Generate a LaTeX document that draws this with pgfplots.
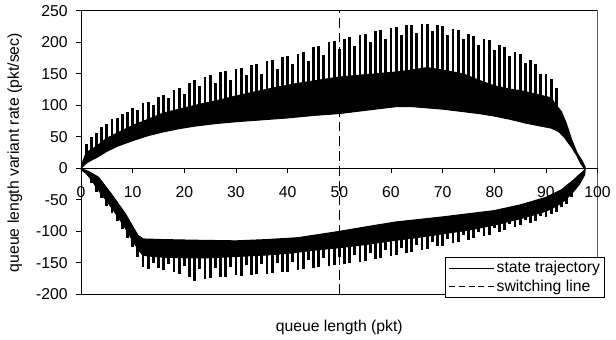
\documentclass[border=0pt]{standalone}
\usepackage{fontspec}
\setmainfont{Liberation Sans}
\usepackage{pgfplots}
\usepackage{pgfplotstable}
\pgfplotsset{compat=1.18}

% upper branch spikes: x, base, top
\pgfplotstableread{
x b t
1 15 38
2 20 50
3 25 56
4 32 66
5 38 70
6 42 78
7 46 80
8 50 87
9 54 90
10 58 96
11 61 92
12 65 103
13 68 106
14 71 100
15 75 113
16 78 116
17 80 112
18 82 124
19 84 128
20 86 118
21 88 136
22 90 140
23 92 130
24 94 145
25 96 148
26 97 136
27 99 153
28 101 155
29 103 140
30 105 158
31 107 160
32 108 148
33 110 164
34 112 166
35 114 150
36 115 170
37 117 172
38 119 158
39 121 176
40 122 178
41 124 165
42 125 182
43 126 185
44 128 170
45 129 192
46 130 195
47 131 180
48 133 200
49 134 202
50 135 190
51 136 206
52 136 208
53 137 195
54 138 212
55 139 214
56 139 200
57 140 218
58 141 220
59 142 205
60 142 223
61 143 225
62 144 212
63 145 227
64 146 228
65 147 215
66 148 229
67 150 229
68 148 218
69 147 227
70 146 226
71 144 212
72 143 222
73 141 219
74 140 205
75 137 213
76 134 210
77 130 196
78 127 206
79 124 203
80 121 188
81 119 196
82 118 193
83 116 178
84 115 185
85 113 181
86 112 168
87 110 172
88 108 165
89 106 150
90 104 150
91 102 142
92 95 128
}\upspikes

% lower branch spikes: x, bottom, top
\pgfplotstableread{
x b t
2 -24 -8
3 -37 -20
4 -47 -30
5 -60 -42
6 -71 -53
7 -84 -65
8 -97 -78
9 -110 -91
10 -125 -105
11 -140 -118
12 -156 -128
13 -160 -129
14 -150 -130
15 -158 -130
16 -162 -131
17 -152 -132
18 -165 -132
19 -168 -132
20 -155 -132
21 -172 -132
22 -178 -132
23 -160 -132
24 -176 -132
25 -174 -132
26 -158 -132
27 -173 -131
28 -172 -131
29 -156 -130
30 -170 -130
31 -171 -130
32 -154 -129
33 -169 -129
34 -168 -128
35 -152 -128
36 -167 -127
37 -166 -127
38 -150 -126
39 -165 -126
40 -164 -125
41 -148 -124
42 -161 -123
43 -160 -122
44 -145 -121
45 -158 -120
46 -157 -119
47 -142 -118
48 -155 -118
49 -154 -117
50 -140 -116
51 -152 -115
52 -151 -114
53 -138 -113
54 -148 -112
55 -147 -111
56 -134 -110
57 -144 -109
58 -142 -108
59 -130 -106
60 -139 -105
61 -138 -104
62 -126 -103
63 -135 -102
64 -133 -101
65 -122 -100
66 -129 -99
67 -128 -98
68 -117 -96
69 -124 -95
70 -123 -94
71 -112 -93
72 -119 -92
73 -117 -90
74 -106 -89
75 -113 -88
76 -111 -86
77 -101 -85
78 -107 -83
79 -105 -82
80 -95 -80
81 -101 -78
82 -98 -76
83 -89 -74
84 -93 -72
85 -90 -70
86 -82 -68
87 -86 -65
88 -83 -63
89 -76 -60
90 -77 -58
91 -72 -54
92 -69 -50
93 -62 -45
94 -56 -38
95 -46 -30
}\lowspikes

\begin{document}
\fontsize{16}{19}\selectfont
\begin{tikzpicture}
\begin{axis}[
  name=ax,
  scale only axis,
  width=523bp, height=287bp,
  xmin=0, xmax=100, ymin=-200, ymax=250,
  axis x line*=middle, axis y line*=left,
  hide obscured x ticks=false, hide obscured y ticks=false,
  xtick={0,10,...,100}, ytick={-200,-150,...,250},
  tick align=outside, major tick length=5bp,
  tick style={black, line width=0.9bp},
  axis line style={black, line width=0.9bp},
  /pgf/number format/assume math mode=true,
  xticklabel style={yshift=-8bp},
  yticklabel style={xshift=-3bp},
  xlabel={queue length (pkt)},
  ylabel={queue length variant rate (pkt/sec)},
  every axis x label/.style={at={(axis description cs:0.5,-0.115)}, anchor=center},
  every axis y label/.style={at={(axis description cs:-0.128,0.5)}, rotate=90, anchor=center},
  legend image code/.code={\draw[#1] (0bp,0bp) -- (46bp,0bp);},
  legend style={at={(1.015,0.132)}, anchor=north east, draw=black, fill=white,
    line width=0.9bp, row sep=1bp, inner xsep=3bp, inner ysep=2bp},
  legend cell align=left,
]
% upper band of the trajectory
\addplot[fill=black, draw=black, line width=1bp, forget plot] coordinates {
 (0,0) (0.5,4) (1,8) (2,13) (3,17) (5,27) (7,35) (10,44) (13,52) (16,58) (19,63)
 (22,67) (26,71) (30,74) (35,77) (40,80) (45,84) (50,87) (55,92) (61,98) (64,98)
 (67,96) (70,94) (74,90) (77,87) (80,83) (83,78) (86,72) (89,67) (91,64) (92.5,58)
 (93.5,50) (95,33) (96,20) (96.7,8) (97.4,0)
 (97.6,2) (97,12) (96,25) (95,45) (94,70) (93,90) (92,100) (91,112) (88,118)
 (86,122) (83,126) (80,131) (77,140) (74,150) (70,156) (67,160) (64,156) (61,153)
 (57,150) (54,148) (50,145) (46,140) (42,135) (38,129) (34,122) (30,115) (26,107)
 (22,100) (19,94) (16,88) (13,78) (10,68) (8,60) (6,52) (5,48) (3,35) (2,30) (1,25) (0.4,12)
} -- cycle;
% lower band of the trajectory
\addplot[fill=black, draw=black, line width=1bp, forget plot] coordinates {
 (0,0) (1.5,-5) (3.4,-14) (6,-42) (8.6,-72) (10,-92) (11,-106) (12,-112) (16,-113)
 (22,-114) (30,-115) (36,-113) (42,-110) (46,-105) (50,-100) (55,-93) (61,-85)
 (70,-77) (80,-67) (85,-58) (90,-46) (93,-34) (95.4,-18) (97,-6) (97.6,-1)
 (97.5,-10) (96.5,-25) (95,-40) (94,-48) (93,-55) (92,-60) (90,-68) (88,-73)
 (85,-80) (80,-90) (75,-98) (70,-104) (65,-110) (61,-114) (55,-121) (50,-126)
 (45,-130) (40,-135) (35,-138) (30,-140) (25,-142) (20,-142) (16,-141) (14,-140)
 (12,-138) (11,-128) (10,-115) (8.6,-95) (7,-75) (5,-52) (3.4,-35) (2,-18) (1,-8) (0,-2)
} -- cycle;
% oscillation spikes
\addplot[draw=none, mark=none, forget plot,
  error bars/.cd, y dir=plus, y explicit, error mark=none,
  error bar style={draw=black, line width=2.8bp, solid}]
  table[x=x, y=b, y error expr=\thisrow{t}-\thisrow{b}] {\upspikes};
\addplot[draw=none, mark=none, forget plot,
  error bars/.cd, y dir=plus, y explicit, error mark=none,
  error bar style={draw=black, line width=2.8bp, solid}]
  table[x=x, y=b, y error expr=\thisrow{t}-\thisrow{b}] {\lowspikes};
% switching line
\addplot[black, line width=1bp, dash pattern=on 10bp off 5bp, forget plot]
  coordinates {(50,-200) (50,250)};
\draw[line width=0.9bp] (rel axis cs:0,0) rectangle (rel axis cs:1,1);
\addlegendimage{black, line width=1bp}
\addlegendentry{state trajectory}
\addlegendimage{black, line width=1bp, dash pattern=on 6bp off 4bp}
\addlegendentry{switching line}
\end{axis}
\path ([xshift=-82bp,yshift=-43bp]ax.south west) rectangle ([xshift=11bp,yshift=11bp]ax.north east);
\end{tikzpicture}
\end{document}
